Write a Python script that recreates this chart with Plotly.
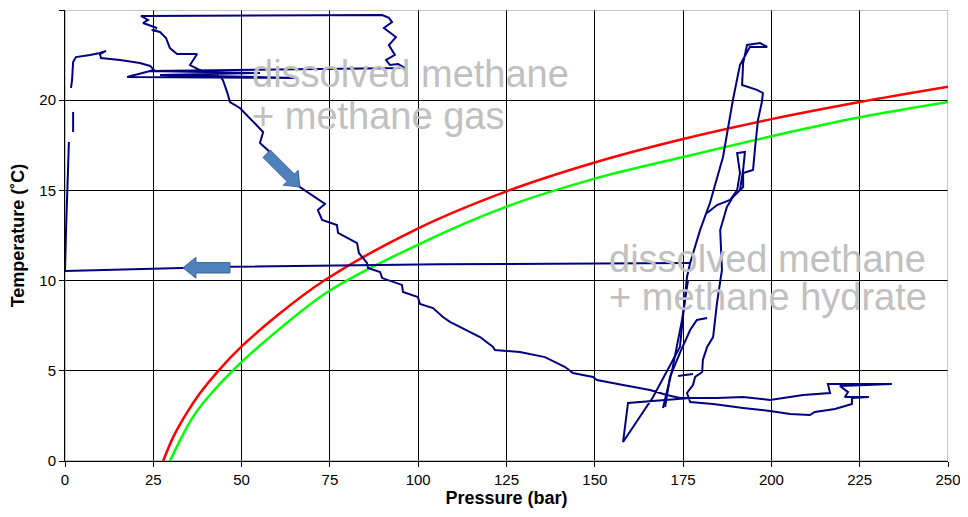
import math
import plotly.graph_objects as go

# measured pressure / temperature path (None breaks between recorded pieces)
RETURN_P = [177.0, 106.2, 46.7, 0.0, 0.3, 0.6, 0.8, 1.1]
RETURN_T = [10.98, 10.90, 10.77, 10.53, 12.80, 15.02, 16.68, 17.68]

DASH_P = [2.3, 2.3]
DASH_T = [19.35, 18.24]

MAIN_P = [1.7, 2.0, 2.3, 3.1, 7.1, 9.9, 11.6, 9.9, 10.2, 15.6,
          21.2, 24.1, 25.2, 21.2, 17.6, 66.0, 26.9, 55.2, 24.1, 96.3,
          94.3, 92.0, 90.9, 93.4, 91.7, 93.7, 90.3, 92.6, 91.7, 89.8,
          21.5, 23.5, 22.1, 26.0, 24.6, 26.9, 28.6, 29.7, 31.7, 37.4,
          36.2, 35.4, 38.2, 40.2, 43.9, 44.7, 45.9, 46.7, 49.5, 56.1,
          55.2, 58.0, 66.5, 73.6, 71.6, 72.8, 77.0, 77.3, 82.7, 83.2,
          85.5, 85.8, 89.2, 89.8, 95.4, 95.7, 99.9, 100.5, 104.2, 107.0,
          109.0, 117.5, 121.2, 121.7, 128.8, 135.9, 141.6, 143.8, 149.5, 150.6,
          158.0, 165.6, 170.4, 174.1, 184.6, 192.0, 199.6, 209.0, 216.6, 216.0,
          234.1, 219.4, 221.7, 220.8, 227.6, 222.8, 222.8, 220.8, 218.0, 212.3,
          210.9, 205.3, 199.6, 192.0, 183.5, 177.0, 176.1, 177.8, 178.4, 180.4,
          180.6, 181.8, 183.5, 184.6, 185.5, 186.0, 185.5, 187.4, 189.1, 191.1,
          192.0, 192.0, 194.8, 195.4, 196.2, 197.3, 197.6, 195.9, 191.7, 192.0,
          193.1, 196.8, 198.8, 193.9, 191.1, 189.1, 186.3, 182.6, 179.8, 177.0,
          176.1, 174.1, 166.5, 158.0, 159.4, 177.0]
MAIN_T = [20.68, 21.12, 22.12, 22.39, 22.51, 22.62, 22.73, 22.56, 22.34, 22.23,
          22.06, 21.90, 21.67, 21.45, 21.29, 21.23, 21.40, 21.51, 21.62, 21.78,
          22.01, 21.95, 22.23, 22.51, 23.06, 23.50, 24.00, 24.33, 24.56, 24.72,
          24.67, 24.45, 24.28, 24.00, 23.89, 23.78, 23.45, 22.89, 22.56, 22.56,
          22.23, 21.95, 21.67, 21.56, 21.29, 21.12, 20.45, 19.90, 19.57, 18.24,
          17.63, 17.13, 15.19, 14.25, 13.91, 13.36, 13.08, 12.64, 12.08, 11.53,
          10.98, 10.70, 10.48, 10.14, 9.76, 9.37, 9.09, 8.70, 8.48, 7.98,
          7.71, 6.87, 6.32, 6.15, 6.04, 5.76, 5.21, 4.88, 4.66, 4.49,
          4.21, 3.94, 3.66, 3.49, 3.49, 3.55, 3.38, 3.66, 3.77, 4.27,
          4.27, 4.16, 3.82, 3.55, 3.55, 3.49, 3.16, 3.05, 2.88, 2.72,
          2.55, 2.61, 2.77, 2.94, 3.16, 3.27, 3.77, 4.21, 4.66, 4.93,
          5.60, 6.32, 6.87, 8.76, 10.03, 10.59, 12.80, 14.08, 14.63, 15.02,
          15.19, 15.96, 16.13, 17.41, 18.90, 19.90, 20.40, 20.57, 20.84, 22.06,
          23.06, 23.17, 22.95, 22.95, 21.95, 20.01, 16.85, 14.30, 12.80, 10.98,
          10.20, 6.32, 3.55, 1.05, 3.22, 3.49]

INNER_A_P = [169.9, 171.3, 174.1, 177.0, 178.9, 181.8]
INNER_A_T = [2.99, 4.66, 5.99, 7.26, 7.82, 7.93]
INNER_B_P = [169.3, 171.9, 174.7, 176.4]
INNER_B_T = [2.94, 5.04, 7.82, 10.03]
INNER_C_P = [181.8, 184.6, 188.3, 190.3, 191.1, 190.3, 192.5, 192.0, 191.1]
INNER_C_T = [13.75, 14.19, 14.47, 15.02, 15.96, 17.07, 17.13, 16.13, 15.02]
BIT_P = [173.6, 177.8]
BIT_T = [4.71, 4.82]

# hydrate equilibrium curves
RED_P = [27.8, 30.7, 34.4, 38.2, 43.4, 50, 60, 73.6, 100, 125, 150, 175, 200, 225, 250]
RED_T = [0, 1.35, 2.64, 3.75, 5.0, 6.35, 8.05, 10.03, 12.9, 14.95, 16.55, 17.85, 18.95, 19.9, 20.75]
GREEN_P = [29.7, 32.6, 36.3, 40.1, 47.4, 60, 75, 100, 125, 150, 175, 200, 225, 250]
GREEN_T = [0, 1.16, 2.46, 3.45, 5.0, 7.2, 9.45, 12.0, 14.1, 15.65, 16.85, 18.0, 19.05, 19.9]

# arrow tips (P, T) and direction tail->tip on screen (dx right, dy up)
ARROWS = [((33.4, 10.71), (-1, 0)), ((66.5, 15.19), (1, -1))]

LABELS = [('dissolved methane', 52.4, 21.43), ('+ methane gas', 52.4, 19.14),
          ('dissolved methane', 153.5, 11.2), ('+ methane hydrate', 153.5, 9.07)]

FONT = 'Liberation Sans, Arial, sans-serif'


def join(*pieces):
    xs, ys = [], []
    for px, py in pieces:
        if xs:
            xs.append(None)
            ys.append(None)
        xs += px
        ys += py
    return xs, ys


def arrow_path(dx, dy, length=47, head=13, shaft=5.2, wing=10.5):
    n = math.hypot(dx, dy)
    dx, dy = dx / n, dy / n
    nx, ny = -dy, dx
    local = [(0, 0), (head, wing), (head, shaft), (length, shaft),
             (length, -shaft), (head, -shaft), (head, -wing)]
    pts = [(-dx * u + nx * v, -dy * u + ny * v) for u, v in local]
    return 'M ' + ' L '.join('%.2f,%.2f' % p for p in pts) + ' Z'


path_x, path_y = join((RETURN_P, RETURN_T), (DASH_P, DASH_T), (MAIN_P, MAIN_T),
                      (INNER_A_P, INNER_A_T), (INNER_B_P, INNER_B_T),
                      (INNER_C_P, INNER_C_T), (BIT_P, BIT_T))

fig = go.Figure()
fig.add_trace(go.Scatter(x=RED_P, y=RED_T, mode='lines', line_shape='spline',
                         line=dict(color='#ff0000', width=2.5)))
fig.add_trace(go.Scatter(x=GREEN_P, y=GREEN_T, mode='lines', line_shape='spline',
                         line=dict(color='#00ff00', width=2.5)))
fig.add_trace(go.Scatter(x=path_x, y=path_y, mode='lines', connectgaps=False,
                         line=dict(color='#000080', width=2)))

for (ax, ay), (dx, dy) in ARROWS:
    fig.add_shape(type='path', xref='x', yref='y', xsizemode='pixel', ysizemode='pixel',
                  xanchor=ax, yanchor=ay, path=arrow_path(dx, dy),
                  fillcolor='#4f81bd', line=dict(color='#3a6596', width=1), layer='above')

for text, x, y in LABELS:
    fig.add_annotation(x=x, y=y, text=text, showarrow=False, xanchor='left', yanchor='middle',
                       font=dict(family=FONT, size=38, color='#c0c0c0'))

fig.add_shape(type='rect', xref='x', yref='y', x0=0, x1=250, y0=0, y1=25,
              line=dict(color='#8c8c8c', width=1), layer='between')

# the page body adds an 8px margin, so the figure is sized to fit inside it
fig.update_layout(
    width=960, height=509,
    margin=dict(l=57, r=20, t=2, b=56, autoexpand=False),
    plot_bgcolor='white', paper_bgcolor='white',
    showlegend=False, hovermode=False,
    font=dict(family=FONT, size=15, color='black'),
)
fig.update_xaxes(range=[0, 250], dtick=25, tick0=0, showgrid=True, gridcolor='black',
                 gridwidth=1, showline=True, linecolor='black', linewidth=1,
                 ticks='outside', ticklen=5, tickcolor='black', zeroline=False,
                 automargin=False,
                 title=dict(text='<b>Pressure (bar)</b>', font=dict(size=18), standoff=2))
fig.update_yaxes(range=[0, 25], dtick=5, tick0=0, showgrid=True, gridcolor='black',
                 gridwidth=1, showline=True, linecolor='black', linewidth=1,
                 ticks='outside', ticklen=5, tickcolor='black', zeroline=False,
                 automargin=False,
                 title=dict(text='<b>Temperature (˚C)</b>', font=dict(size=18), standoff=10))

fig.write_html('out.html')
